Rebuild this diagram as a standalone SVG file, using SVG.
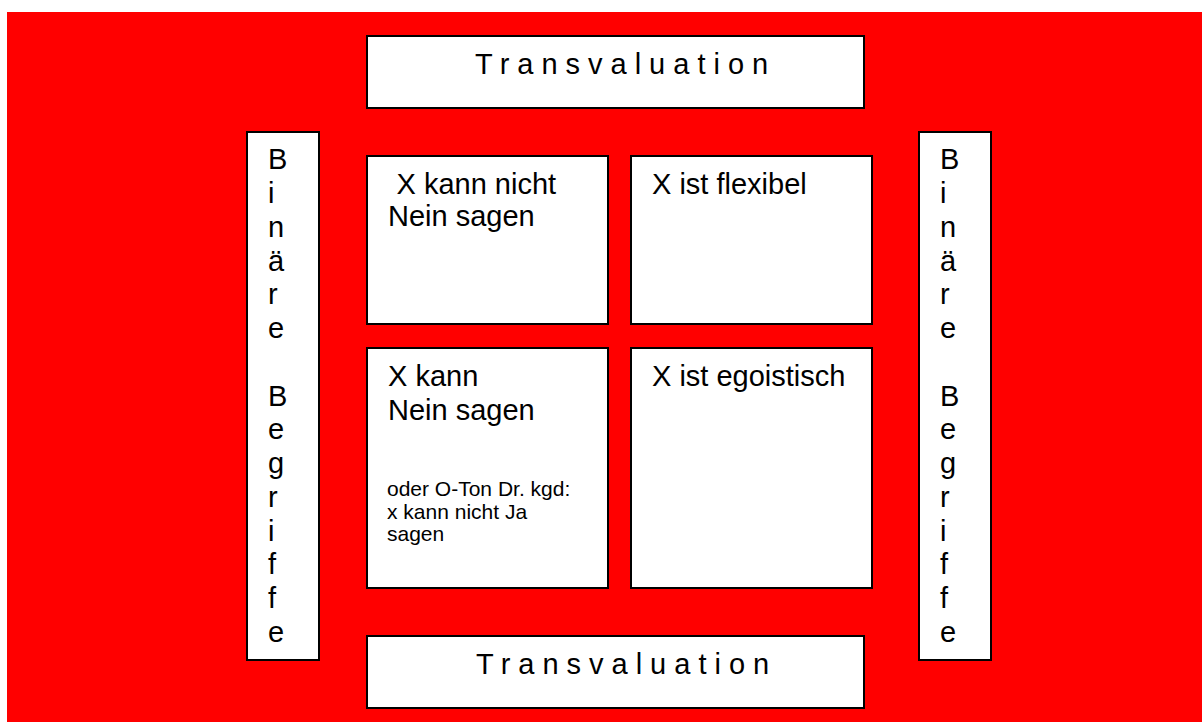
<svg xmlns="http://www.w3.org/2000/svg" width="1202" height="722" viewBox="0 0 1202 722">
  <style>
    .box { fill: #ffffff; stroke: #000000; stroke-width: 2; }
    .t { font-family: "Liberation Sans", Arial, sans-serif; fill: #000000; }
    .big { font-size: 29px; }
    .small { font-size: 21px; }
    .spaced { font-size: 29px; letter-spacing: 8px; }
  </style>
  <rect width="1202" height="722" fill="#ffffff"/>
  <rect x="7" y="12" width="1195" height="710" fill="#ff0000"/>

  <g id="transvaluation-top">
    <rect class="box" x="367" y="36" width="497" height="72"/>
    <text class="t spaced" x="475" y="74">Transvaluation</text>
  </g>

  <g id="binaere-begriffe-left">
    <rect class="box" x="247" y="132" width="72" height="528"/>
    <text class="t big">
      <tspan x="268" y="169.3">B</tspan>
      <tspan x="268" y="203">i</tspan>
      <tspan x="268" y="236.8">n</tspan>
      <tspan x="268" y="270.5">ä</tspan>
      <tspan x="268" y="304.3">r</tspan>
      <tspan x="268" y="338">e</tspan>
      <tspan x="268" y="405.5">B</tspan>
      <tspan x="268" y="439.3">e</tspan>
      <tspan x="268" y="473">g</tspan>
      <tspan x="268" y="506.8">r</tspan>
      <tspan x="268" y="540.5">i</tspan>
      <tspan x="268" y="574.3">f</tspan>
      <tspan x="268" y="608">f</tspan>
      <tspan x="268" y="641.8">e</tspan>
    </text>
  </g>

  <g id="binaere-begriffe-right">
    <rect class="box" x="919" y="132" width="72" height="528"/>
    <text class="t big">
      <tspan x="940" y="169.3">B</tspan>
      <tspan x="940" y="203">i</tspan>
      <tspan x="940" y="236.8">n</tspan>
      <tspan x="940" y="270.5">ä</tspan>
      <tspan x="940" y="304.3">r</tspan>
      <tspan x="940" y="338">e</tspan>
      <tspan x="940" y="405.5">B</tspan>
      <tspan x="940" y="439.3">e</tspan>
      <tspan x="940" y="473">g</tspan>
      <tspan x="940" y="506.8">r</tspan>
      <tspan x="940" y="540.5">i</tspan>
      <tspan x="940" y="574.3">f</tspan>
      <tspan x="940" y="608">f</tspan>
      <tspan x="940" y="641.8">e</tspan>
    </text>
  </g>

  <g id="kann-nicht-nein-sagen">
    <rect class="box" x="367" y="156" width="241" height="168"/>
    <text class="t big">
      <tspan x="396.5" y="194">X kann nicht</tspan>
      <tspan x="388" y="226">Nein sagen</tspan>
    </text>
  </g>

  <g id="ist-flexibel">
    <rect class="box" x="631" y="156" width="241" height="168"/>
    <text class="t big" x="652" y="194">X ist flexibel</text>
  </g>

  <g id="kann-nein-sagen">
    <rect class="box" x="367" y="348" width="241" height="240"/>
    <text class="t big">
      <tspan x="388" y="386">X kann</tspan>
      <tspan x="388" y="420">Nein sagen</tspan>
    </text>
    <text class="t small">
      <tspan x="387" y="496">oder O-Ton Dr. kgd:</tspan>
      <tspan x="387" y="518.5">x kann nicht Ja</tspan>
      <tspan x="387" y="541">sagen</tspan>
    </text>
  </g>

  <g id="ist-egoistisch">
    <rect class="box" x="631" y="348" width="241" height="240"/>
    <text class="t big" x="652" y="386">X ist egoistisch</text>
  </g>

  <g id="transvaluation-bottom">
    <rect class="box" x="367" y="636" width="497" height="72"/>
    <text class="t spaced" x="476" y="674">Transvaluation</text>
  </g>

  <g id="connectors"/>
</svg>
